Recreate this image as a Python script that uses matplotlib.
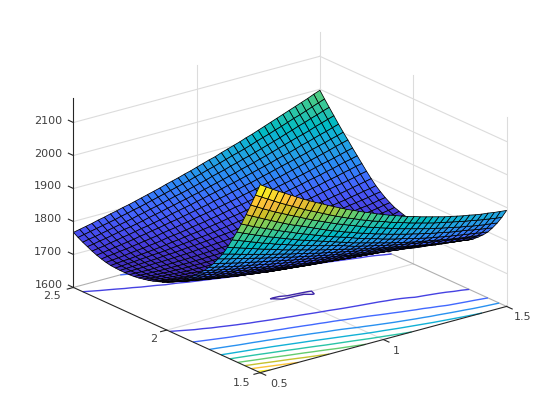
#!/usr/bin/env python3
import matplotlib as mpl
mpl.use('Agg')
import matplotlib.pyplot as plt
from matplotlib.colors import LinearSegmentedColormap
from mpl_toolkits.mplot3d import proj3d
import numpy

x_vals = numpy.linspace(0.5, 1.5, 41)
y_vals = numpy.linspace(1.5, 2.5, 41)
# one row per y value
z_vals = [
	[2170,2158,2146,2135,2124,2113,2102,2091,2081,2071,2062,2052,2043,2034,2025,2017,2009,2001,1994,1986,1979,1972,1966,1959,1953,1948,1942,1937,1932,1927,1922,1918,1914,1910,1907,1903,1900,1898,1895,1893,1891],
	[2132,2121,2110,2099,2088,2078,2068,2058,2048,2039,2030,2021,2012,2003,1995,1987,1980,1972,1965,1958,1952,1946,1939,1933,1928,1922,1917,1912,1907,1902,1898,1894,1890,1886,1882,1879,1875,1872,1869,1866,1864],
	[2095,2085,2074,2064,2054,2045,2036,2027,2018,2009,2000,1992,1984,1976,1968,1961,1954,1947,1940,1933,1927,1921,1915,1909,1903,1898,1893,1888,1883,1878,1874,1870,1866,1862,1858,1855,1851,1848,1845,1843,1840],
	[2060,2050,2041,2031,2022,2013,2004,1995,1987,1980,1972,1964,1956,1948,1941,1934,1927,1921,1914,1908,1902,1896,1891,1885,1880,1875,1870,1866,1861,1857,1852,1849,1845,1841,1838,1835,1832,1828,1825,1822,1819],
	[2025,2016,2007,1999,1991,1983,1975,1967,1960,1952,1945,1938,1931,1924,1917,1911,1905,1899,1893,1886,1880,1875,1870,1864,1859,1854,1850,1845,1840,1836,1832,1828,1825,1821,1818,1815,1812,1809,1806,1803,1800],
	[1994,1986,1978,1970,1963,1955,1948,1941,1934,1927,1920,1914,1908,1902,1896,1890,1884,1878,1872,1866,1861,1856,1851,1846,1841,1836,1832,1827,1823,1819,1815,1812,1808,1805,1801,1798,1795,1792,1790,1787,1785],
	[1964,1957,1950,1943,1936,1929,1923,1916,1910,1904,1898,1892,1887,1881,1876,1871,1866,1861,1856,1850,1844,1840,1835,1831,1826,1822,1818,1814,1810,1807,1803,1800,1796,1793,1790,1787,1784,1781,1778,1775,1772],
	[1935,1929,1923,1917,1911,1905,1899,1894,1888,1882,1877,1872,1867,1862,1857,1852,1847,1843,1838,1834,1829,1825,1820,1816,1812,1808,1804,1801,1797,1793,1789,1786,1782,1779,1776,1773,1770,1768,1765,1762,1760],
	[1908,1903,1898,1892,1887,1882,1877,1872,1867,1863,1858,1853,1849,1844,1840,1835,1831,1827,1823,1819,1815,1811,1807,1804,1800,1796,1793,1789,1786,1782,1779,1776,1773,1770,1767,1764,1761,1758,1755,1753,1750],
	[1887,1882,1877,1873,1868,1863,1859,1854,1850,1845,1841,1837,1832,1828,1824,1820,1816,1812,1808,1805,1801,1797,1794,1790,1787,1784,1781,1778,1775,1772,1769,1766,1763,1761,1758,1755,1753,1750,1747,1745,1742],
	[1866,1862,1857,1853,1848,1844,1840,1836,1832,1828,1824,1820,1816,1812,1809,1805,1801,1798,1794,1791,1788,1785,1781,1778,1775,1772,1769,1766,1763,1760,1757,1755,1752,1749,1747,1745,1742,1740,1738,1736,1735],
	[1848,1844,1840,1835,1831,1827,1823,1820,1816,1812,1808,1805,1801,1798,1794,1791,1787,1784,1781,1778,1775,1772,1770,1767,1764,1762,1759,1757,1755,1752,1750,1748,1746,1744,1742,1740,1738,1736,1734,1732,1730],
	[1832,1828,1824,1820,1816,1812,1808,1805,1801,1797,1793,1790,1786,1783,1780,1777,1773,1770,1767,1765,1762,1759,1757,1754,1752,1750,1748,1746,1744,1742,1740,1738,1737,1735,1733,1732,1730,1729,1727,1726,1725],
	[1818,1814,1810,1806,1802,1798,1795,1791,1787,1784,1780,1777,1773,1770,1767,1764,1761,1758,1756,1753,1751,1749,1746,1744,1742,1740,1739,1737,1735,1734,1732,1731,1730,1728,1727,1726,1725,1724,1723,1723,1722],
	[1805,1801,1797,1793,1789,1785,1782,1778,1775,1771,1768,1765,1761,1758,1756,1753,1750,1748,1745,1743,1741,1739,1737,1735,1733,1731,1730,1728,1727,1726,1725,1724,1723,1722,1721,1721,1720,1720,1720,1720,1720],
	[1792,1788,1784,1780,1776,1773,1769,1766,1762,1759,1756,1753,1750,1747,1744,1742,1739,1737,1735,1733,1731,1729,1728,1726,1725,1724,1723,1722,1721,1720,1720,1719,1719,1718,1718,1718,1718,1719,1719,1720,1720],
	[1780,1776,1772,1768,1765,1761,1758,1754,1751,1748,1744,1742,1739,1736,1734,1732,1730,1728,1726,1724,1722,1721,1720,1719,1718,1717,1716,1715,1715,1714,1714,1714,1714,1715,1715,1716,1716,1717,1718,1719,1720],
	[1770,1766,1762,1758,1755,1751,1748,1745,1742,1738,1735,1733,1730,1728,1725,1723,1721,1719,1718,1716,1715,1714,1712,1711,1710,1710,1709,1709,1708,1708,1708,1709,1709,1710,1711,1712,1714,1715,1717,1719,1721],
	[1761,1757,1753,1749,1746,1742,1739,1736,1733,1730,1727,1725,1722,1720,1718,1716,1714,1713,1711,1710,1709,1708,1707,1706,1705,1705,1705,1705,1705,1706,1707,1708,1709,1710,1711,1713,1714,1716,1718,1720,1722],
	[1753,1749,1745,1741,1738,1734,1731,1728,1725,1722,1720,1717,1715,1713,1711,1709,1708,1707,1706,1704,1703,1701.5,1700.6,1699.9,1700.5,1701.3,1702,1702,1703,1704,1705,1706,1707,1709,1710,1712,1714,1716,1718,1721,1724],
	[1745,1741,1737,1733,1730,1727,1724,1721,1719,1716,1714,1711,1709,1707,1705,1704,1702.5,1701,1700.4,1699.8,1699.6,1699.6,1699.7,1699.8,1700.2,1700.6,1701.2,1702,1703,1704,1705,1706,1708,1710,1712,1714,1716,1718,1721,1724,1727],
	[1739,1735,1732,1728,1725,1722,1719,1717,1714,1712,1710,1708,1706,1704,1703,1702,1701,1700.3,1699.8,1700,1700.3,1700.5,1700.7,1701,1701.3,1701.6,1702,1703,1704,1705,1706,1708,1710,1712,1714,1716,1718,1721,1724,1727,1731],
	[1734,1731,1728,1725,1722,1719,1717,1714,1712,1710,1708,1707,1705,1704,1703,1702.5,1702,1702,1702,1702,1702,1702,1702,1702.5,1703,1703.5,1704,1704.5,1705,1707,1709,1710,1712,1714,1716,1718,1721,1724,1727,1731,1735],
	[1729,1726,1723,1720,1718,1716,1714,1712,1710,1709,1707,1706,1705,1704,1703,1703,1703,1703,1703,1703,1703,1703,1703,1703,1704,1705,1706,1707,1709,1711,1713,1714,1716,1718,1720,1723,1725,1728,1731,1735,1740],
	[1725,1723,1720,1718,1716,1714,1713,1712,1710,1709,1708,1707,1707,1706,1706,1706,1705,1705,1705,1705,1706,1706,1707,1707,1708,1709,1710,1711,1713,1715,1717,1719,1721,1723,1726,1729,1732,1735,1738,1741,1745],
	[1722,1720,1718,1716,1715,1713,1712,1711,1711,1710,1710,1710,1709,1709,1709,1709,1709,1710,1710,1711,1711,1712,1713,1714,1715,1716,1718,1719,1721,1723,1725,1727,1730,1732,1735,1737,1740,1743,1746,1750,1753],
	[1719,1718,1716,1715,1714,1713,1713,1712,1712,1712,1712,1712,1712,1713,1713,1714,1714,1715,1715,1716,1717,1718,1719,1721,1722,1724,1725,1727,1729,1731,1734,1736,1739,1741,1744,1747,1750,1752,1755,1759,1762],
	[1717,1716,1715,1715,1714,1714,1714,1714,1714,1714,1715,1715,1716,1716,1717,1718,1719,1720,1721,1722,1723,1725,1726,1728,1730,1731,1733,1735,1738,1740,1742,1745,1748,1751,1754,1757,1760,1763,1766,1770,1773],
	[1716,1716,1715,1715,1715,1716,1716,1716,1717,1717,1718,1719,1720,1721,1722,1723,1724,1725,1727,1728,1730,1732,1733,1735,1737,1739,1742,1744,1746,1749,1752,1755,1758,1761,1764,1767,1771,1774,1778,1781,1785],
	[1716,1716,1717,1717,1718,1719,1719,1720,1721,1722,1723,1724,1726,1727,1728,1730,1731,1733,1735,1737,1739,1741,1743,1745,1747,1750,1752,1755,1757,1760,1763,1766,1770,1773,1777,1780,1784,1788,1792,1796,1800],
	[1716,1717,1718,1719,1720,1721,1722,1724,1725,1726,1728,1730,1731,1733,1735,1737,1739,1741,1743,1746,1748,1750,1753,1755,1758,1761,1764,1767,1770,1774,1777,1780,1784,1788,1792,1796,1799,1803,1807,1812,1816],
	[1717,1718,1720,1721,1723,1724,1726,1727,1729,1731,1733,1735,1737,1739,1741,1743,1746,1749,1752,1755,1758,1760,1763,1766,1769,1772,1775,1778,1782,1786,1791,1794,1798,1802,1807,1811,1815,1820,1824,1829,1833],
	[1718,1720,1722,1723,1725,1727,1729,1731,1733,1736,1739,1741,1744,1747,1749,1752,1755,1758,1761,1765,1768,1771,1775,1778,1782,1785,1789,1793,1797,1801,1805,1809,1814,1818,1822,1827,1831,1836,1841,1845,1850],
	[1721,1723,1725,1727,1730,1732,1734,1737,1739,1742,1746,1748,1751,1754,1758,1761,1764,1768,1771,1775,1779,1783,1786,1790,1794,1798,1802,1806,1811,1815,1819,1824,1828,1833,1838,1843,1847,1852,1857,1862,1867],
	[1725,1728,1730,1733,1735,1738,1741,1744,1747,1750,1754,1757,1760,1764,1767,1771,1775,1778,1782,1786,1790,1794,1798,1803,1807,1811,1816,1820,1825,1829,1834,1839,1844,1849,1854,1859,1864,1869,1875,1880,1885],
	[1730,1733,1736,1739,1742,1745,1748,1752,1755,1759,1762,1766,1770,1773,1777,1781,1785,1789,1793,1798,1802,1806,1811,1815,1820,1824,1829,1834,1839,1844,1849,1854,1859,1864,1869,1875,1880,1885,1891,1896,1902],
	[1736,1739,1742,1746,1749,1753,1756,1760,1764,1767,1771,1775,1779,1784,1788,1792,1796,1801,1805,1810,1814,1819,1824,1828,1833,1838,1843,1848,1853,1858,1864,1869,1874,1880,1886,1891,1897,1903,1908,1914,1920],
	[1743,1746,1750,1753,1757,1761,1765,1768,1772,1776,1781,1785,1789,1794,1798,1803,1807,1812,1816,1821,1826,1831,1836,1841,1846,1852,1857,1862,1868,1873,1879,1885,1891,1897,1903,1908,1914,1921,1927,1933,1939],
	[1750,1754,1757,1761,1765,1769,1773,1777,1781,1786,1790,1795,1799,1804,1809,1814,1818,1823,1828,1833,1838,1844,1849,1854,1860,1865,1871,1876,1882,1888,1894,1900,1906,1913,1919,1926,1932,1939,1945,1952,1958],
	[1758,1762,1766,1770,1774,1778,1782,1787,1791,1796,1800,1805,1810,1815,1820,1825,1830,1835,1840,1846,1851,1857,1862,1868,1874,1880,1885,1891,1897,1904,1910,1916,1923,1929,1936,1943,1949,1956,1963,1970,1977],
	[1767,1771,1775,1779,1784,1788,1793,1797,1802,1806,1811,1816,1821,1826,1831,1837,1842,1847,1853,1858,1864,1870,1876,1881,1888,1894,1900,1906,1913,1919,1926,1933,1940,1947,1954,1961,1968,1975,1982,1990,1997],
]
levels = [1700, 1750, 1800, 1850, 1900, 1950, 2000, 2050, 2100, 2150]
x_ticks = [0.5, 1.0, 1.5]
x_labels = ['0.5', '1', '1.5']
y_ticks = [1.5, 2.0, 2.5]
y_labels = ['1.5', '2', '2.5']
z_ticks = [1600, 1700, 1800, 1900, 2000, 2100]

# row of the 64 colour table, colour
ParulaRows = [
	(0, (0.2422, 0.1504, 0.6603)), (4, (0.2706, 0.2147, 0.8364)), (9, (0.2810, 0.3228, 0.9579)),
	(13, (0.2602, 0.4123, 0.9952)), (18, (0.1786, 0.5289, 0.9682)), (23, (0.1380, 0.6276, 0.8973)),
	(27, (0.0689, 0.6948, 0.8394)), (30, (0.0067, 0.7312, 0.7660)), (33, (0.1408, 0.7584, 0.6842)),
	(36, (0.2161, 0.7843, 0.5923)), (39, (0.3406, 0.8008, 0.4789)), (42, (0.5044, 0.7993, 0.3480)),
	(45, (0.6720, 0.7793, 0.2227)), (48, (0.8203, 0.7498, 0.1535)), (52, (0.9728, 0.7298, 0.2394)),
	(55, (0.9952, 0.7861, 0.1999)), (59, (0.9628, 0.8997, 0.1500)), (63, (0.9763, 0.9831, 0.0538)),
]
parula = LinearSegmentedColormap.from_list('parula', [(R / 63, C) for R, C in ParulaRows], N=64)

XMin, XMax = 0.5, 1.5
YMin, YMax = 1.5, 2.5
ZMin, ZMax = 1600, 2173

Fig = plt.figure(figsize=(5.6, 4.2), dpi=100)
# square axes wider than the picture, otherwise the right corner gets clipped
Axe = Fig.add_axes([2.44 / 560, -70 / 420, 1.0, 560 / 420], projection='3d', proj_type='ortho',
	computed_zorder=False)
Axe.view_init(elev=20.5, azim=-127.5)
Axe.set_xlim(XMin, XMax)
Axe.set_ylim(YMin, YMax)
Axe.set_zlim(ZMin, ZMax)
Axe.set_box_aspect((311, 307, 202), zoom=0.8337)
Axe.set_axis_off()

X, Y = numpy.meshgrid(x_vals, y_vals)
Z = numpy.array(z_vals, dtype=float)

Grid = dict(color='#dcdcdc', lw=0.8, zorder=1)
Edge = dict(color='#b0b0b0', lw=0.8, zorder=1)
Black = dict(color='#262626', lw=0.8, zorder=5)

# walls and floor
for T in z_ticks[1:]:
	Axe.plot([XMin, XMax], [YMax, YMax], [T, T], **Grid)
	Axe.plot([XMax, XMax], [YMin, YMax], [T, T], **Grid)
Axe.plot([1, 1], [YMin, YMax], [ZMin, ZMin], **Grid)
Axe.plot([XMin, XMax], [2, 2], [ZMin, ZMin], **Grid)
Axe.plot([1, 1], [YMax, YMax], [ZMin, ZMax], **Grid)
Axe.plot([XMax, XMax], [2, 2], [ZMin, ZMax], **Grid)
Axe.plot([XMax, XMax], [YMax, YMax], [ZMin, ZMax], **Grid)
Axe.plot([XMax, XMax], [YMin, YMin], [ZMin, ZMax], **Grid)
Axe.plot([XMin, XMax], [YMax, YMax], [ZMin, ZMin], **Edge)
Axe.plot([XMax, XMax], [YMin, YMax], [ZMin, ZMin], **Edge)

Axe.contour(X, Y, Z, levels=levels, zdir='z', offset=ZMin, cmap=parula,
	vmin=Z.min(), vmax=Z.max(), linewidths=1.0, zorder=2)
Axe.plot_surface(X, Y, Z, rstride=1, cstride=1, cmap=parula, vmin=Z.min(), vmax=Z.max(),
	edgecolor='k', linewidth=0.55, shade=False, antialiased=True, zorder=3)

# axis lines and ticks
Axe.plot([XMin, XMax], [YMin, YMin], [ZMin, ZMin], **Black)
Axe.plot([XMin, XMin], [YMin, YMax], [ZMin, ZMin], **Black)
Axe.plot([XMin, XMin], [YMax, YMax], [ZMin, ZMax], **Black)

Proj = Axe.get_proj()

def Label(Text, x, y, z, dx, dy, ha='center'):
	(px, py, _) = proj3d.proj_transform(x, y, z, Proj)
	Axe.annotate(Text, xy=(px, py), xycoords='data', xytext=(dx, dy), textcoords='offset pixels',
		ha=ha, va='center', fontsize=8, color='#404040', annotation_clip=False)

Offs = [(19, -11), (13, -11), (16, -11)]
for T, L, O in zip(x_ticks, x_labels, Offs):
	Axe.plot([T, T], [YMin, YMin - 0.03], [ZMin, ZMin], **Black)
	Label(L, T, YMin, ZMin, O[0], O[1])
Offs = [(-18, -10), (-13, -9), (-21, -9)]
for T, L, O in zip(y_ticks, y_labels, Offs):
	Axe.plot([XMin, XMin - 0.025], [T, T], [ZMin, ZMin], **Black)
	Label(L, XMin, T, ZMin, O[0], O[1])
for T in z_ticks:
	Axe.plot([XMin, XMin], [YMax, YMax + 0.027], [T, T], **Black)
	Label(str(T), XMin, YMax, T, -11, 2, ha='right')

Fig.savefig('out.png', dpi=100)
